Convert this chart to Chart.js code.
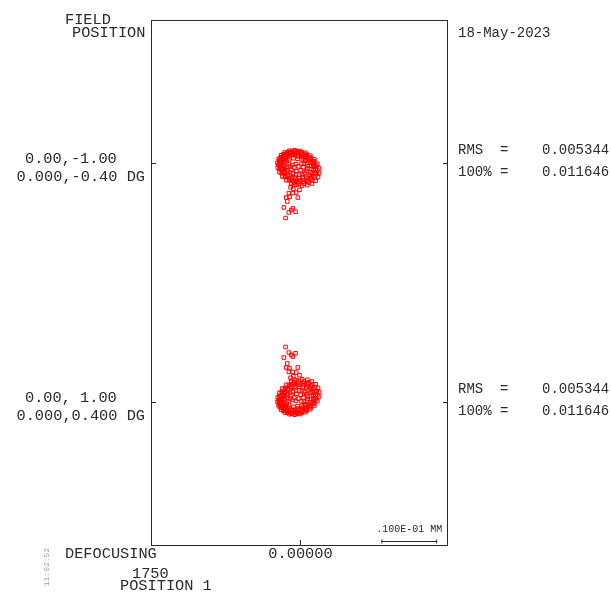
<!DOCTYPE html>
<html>
<head>
<meta charset="utf-8">
<script src="https://cdn.jsdelivr.net/npm/chart.js@4/dist/chart.umd.min.js"></script>
<style>
  html, body { margin: 0; padding: 0; background: #fff; }
  #wrap { width: 611px; height: 602px; }
</style>
</head>
<body>
<div id="wrap"><canvas id="spot" width="611" height="602"></canvas></div>
<script>
// Field definitions (relative field, field angle) and the spot statistics per field
const fieldLabels = ['0.00,-1.00', '0.00, 1.00'];
const fieldAngles = ['0.000,-0.40 DG', '0.000,0.400 DG'];
const rmsValues = ['0.005344', '0.005344'];
const fullValues = ['0.011646', '0.011646'];
const runDate = '18-May-2023';
const runTime = '11:02:52';
const defocusValue = '0.00000';
const wavelengthNm = '1750';
const zoomPosition = 'POSITION 1';
const scaleBarLabel = '.100E-01 MM';
const scaleBarMicrons = 10;

// Spot ray intercepts, micrometres relative to the chief ray of each field (x right, y up)
const spotFieldNeg1 = [
  [3.33,-2.55],[3.55,-1.79],[3.50,-0.97],[3.20,-0.15],[2.67,0.63],[1.94,1.30],[1.07,1.82],[0.11,2.15],
  [-0.87,2.28],[-1.80,2.19],[-2.63,1.89],[-3.29,1.40],[-3.73,0.75],[-3.95,-0.01],[-3.90,-0.83],[-3.60,-1.65],
  [-3.07,-2.43],[-2.34,-3.10],[-1.47,-3.62],[-0.51,-3.95],[0.47,-4.08],[1.40,-3.99],[2.23,-3.69],[2.89,-3.20],
  [3.10,-1.97],[3.18,-1.24],[3.01,-0.47],[2.63,0.27],[2.04,0.95],[1.30,1.50],[0.44,1.90],[-0.46,2.11],
  [-1.35,2.13],[-2.17,1.94],[-2.86,1.58],[-3.37,1.05],[-3.68,0.39],[-3.76,-0.34],[-3.59,-1.11],[-3.21,-1.85],
  [-2.62,-2.53],[-1.88,-3.08],[-1.02,-3.48],[-0.12,-3.69],[0.77,-3.71],[1.59,-3.52],[2.28,-3.16],[2.79,-2.63],
  [2.76,-1.77],[2.84,-1.09],[2.68,-0.39],[2.33,0.30],[1.79,0.93],[1.10,1.44],[0.31,1.81],[-0.52,2.00],
  [-1.35,2.02],[-2.11,1.85],[-2.74,1.51],[-3.22,1.02],[-3.50,0.41],[-3.58,-0.27],[-3.42,-0.97],[-3.07,-1.66],
  [-2.53,-2.29],[-1.84,-2.80],[-1.05,-3.17],[-0.22,-3.36],[0.61,-3.38],[1.37,-3.21],[2.00,-2.87],[2.48,-2.38],
  [2.33,-1.88],[2.50,-1.28],[2.46,-0.64],[2.23,0.01],[1.81,0.63],[1.23,1.16],[0.54,1.57],[-0.22,1.83],
  [-0.99,1.93],[-1.72,1.86],[-2.38,1.62],[-2.90,1.24],[-3.25,0.72],[-3.42,0.12],[-3.38,-0.52],[-3.15,-1.17],
  [-2.73,-1.79],[-2.15,-2.32],[-1.46,-2.73],[-0.70,-2.99],[0.07,-3.09],[0.80,-3.02],[1.46,-2.78],[1.98,-2.40],
  [1.99,-1.66],[2.15,-1.11],[2.11,-0.52],[1.90,0.07],[1.52,0.63],[0.99,1.11],[0.36,1.49],[-0.33,1.73],
  [-1.03,1.82],[-1.70,1.75],[-2.30,1.54],[-2.77,1.19],[-3.09,0.72],[-3.25,0.17],[-3.21,-0.42],[-3.00,-1.01],
  [-2.62,-1.57],[-2.09,-2.05],[-1.46,-2.43],[-0.77,-2.67],[-0.07,-2.76],[0.60,-2.69],[1.20,-2.48],[1.67,-2.13],
  [1.39,-0.99],[1.44,-0.53],[1.34,-0.05],[1.10,0.41],[0.74,0.83],[0.27,1.18],[-0.26,1.43],[-0.82,1.56],
  [-1.38,1.57],[-1.89,1.46],[-2.32,1.23],[-2.64,0.90],[-2.83,0.49],[-2.88,0.03],[-2.78,-0.45],[-2.54,-0.91],
  [-2.18,-1.33],[-1.71,-1.68],[-1.18,-1.93],[-0.62,-2.06],[-0.06,-2.07],[0.45,-1.96],[0.88,-1.73],[1.20,-1.40],
  [0.71,-0.79],[0.79,-0.08],[0.41,0.64],[-0.31,1.17],[-1.18,1.38],[-1.97,1.21],[-2.47,0.69],[-2.55,-0.02],
  [-2.17,-0.74],[-1.45,-1.27],[-0.58,-1.48],[0.21,-1.31],
  [-1.70,-0.55],[-0.95,-0.80],[-0.20,-0.60],[0.35,-0.15],[-1.90,0.45],[-1.10,0.85],[-0.35,0.75],
  [-1.30,-0.35],[-0.60,-0.20],[-2.30,0.30],
  [-1.48,-3.80],[-0.89,-3.93],[-1.60,-4.35],[-1.10,-4.60],[0.00,-4.82],[-1.91,-5.41],[-1.20,-5.41],[-0.59,-5.30],
  [-2.38,-6.20],[-1.79,-6.07],[-0.30,-6.20],[-2.20,-6.91],[-2.80,-7.98],[-1.20,-8.16],[-1.48,-8.45],[-1.91,-8.88],
  [-0.71,-8.75],[-2.50,-9.88]
];
const spotFieldPos1 = [
  [3.33,2.55],[3.55,1.79],[3.50,0.97],[3.20,0.15],[2.67,-0.63],[1.94,-1.30],[1.07,-1.82],[0.11,-2.15],
  [-0.87,-2.28],[-1.80,-2.19],[-2.63,-1.89],[-3.29,-1.40],[-3.73,-0.75],[-3.95,0.01],[-3.90,0.83],[-3.60,1.65],
  [-3.07,2.43],[-2.34,3.10],[-1.47,3.62],[-0.51,3.95],[0.47,4.08],[1.40,3.99],[2.23,3.69],[2.89,3.20],
  [3.10,1.97],[3.18,1.24],[3.01,0.47],[2.63,-0.27],[2.04,-0.95],[1.30,-1.50],[0.44,-1.90],[-0.46,-2.11],
  [-1.35,-2.13],[-2.17,-1.94],[-2.86,-1.58],[-3.37,-1.05],[-3.68,-0.39],[-3.76,0.34],[-3.59,1.11],[-3.21,1.85],
  [-2.62,2.53],[-1.88,3.08],[-1.02,3.48],[-0.12,3.69],[0.77,3.71],[1.59,3.52],[2.28,3.16],[2.79,2.63],
  [2.76,1.77],[2.84,1.09],[2.68,0.39],[2.33,-0.30],[1.79,-0.93],[1.10,-1.44],[0.31,-1.81],[-0.52,-2.00],
  [-1.35,-2.02],[-2.11,-1.85],[-2.74,-1.51],[-3.22,-1.02],[-3.50,-0.41],[-3.58,0.27],[-3.42,0.97],[-3.07,1.66],
  [-2.53,2.29],[-1.84,2.80],[-1.05,3.17],[-0.22,3.36],[0.61,3.38],[1.37,3.21],[2.00,2.87],[2.48,2.38],
  [2.33,1.88],[2.50,1.28],[2.46,0.64],[2.23,-0.01],[1.81,-0.63],[1.23,-1.16],[0.54,-1.57],[-0.22,-1.83],
  [-0.99,-1.93],[-1.72,-1.86],[-2.38,-1.62],[-2.90,-1.24],[-3.25,-0.72],[-3.42,-0.12],[-3.38,0.52],[-3.15,1.17],
  [-2.73,1.79],[-2.15,2.32],[-1.46,2.73],[-0.70,2.99],[0.07,3.09],[0.80,3.02],[1.46,2.78],[1.98,2.40],
  [1.99,1.66],[2.15,1.11],[2.11,0.52],[1.90,-0.07],[1.52,-0.63],[0.99,-1.11],[0.36,-1.49],[-0.33,-1.73],
  [-1.03,-1.82],[-1.70,-1.75],[-2.30,-1.54],[-2.77,-1.19],[-3.09,-0.72],[-3.25,-0.17],[-3.21,0.42],[-3.00,1.01],
  [-2.62,1.57],[-2.09,2.05],[-1.46,2.43],[-0.77,2.67],[-0.07,2.76],[0.60,2.69],[1.20,2.48],[1.67,2.13],
  [1.39,0.99],[1.44,0.53],[1.34,0.05],[1.10,-0.41],[0.74,-0.83],[0.27,-1.18],[-0.26,-1.43],[-0.82,-1.56],
  [-1.38,-1.57],[-1.89,-1.46],[-2.32,-1.23],[-2.64,-0.90],[-2.83,-0.49],[-2.88,-0.03],[-2.78,0.45],[-2.54,0.91],
  [-2.18,1.33],[-1.71,1.68],[-1.18,1.93],[-0.62,2.06],[-0.06,2.07],[0.45,1.96],[0.88,1.73],[1.20,1.40],
  [0.71,0.79],[0.79,0.08],[0.41,-0.64],[-0.31,-1.17],[-1.18,-1.38],[-1.97,-1.21],[-2.47,-0.69],[-2.55,0.02],
  [-2.17,0.74],[-1.45,1.27],[-0.58,1.48],[0.21,1.31],
  [-1.70,0.55],[-0.95,0.80],[-0.20,0.60],[0.35,0.15],[-1.90,-0.45],[-1.10,-0.85],[-0.35,-0.75],
  [-1.30,0.35],[-0.60,0.20],[-2.30,-0.30],
  [-1.48,3.80],[-0.89,3.93],[-1.60,4.35],[-1.10,4.60],[0.00,4.82],[-1.91,5.41],[-1.20,5.41],[-0.59,5.30],
  [-2.38,6.20],[-1.79,6.07],[-0.30,6.20],[-2.20,6.91],[-2.80,7.98],[-1.20,8.16],[-1.48,8.45],[-1.91,8.88],
  [-0.71,8.75],[-2.50,9.88]
];

// Vertical placement of each field's chief ray in the plot frame (micrometres)
const fieldRows = [21.45, -21.45];
const spots = [spotFieldNeg1, spotFieldPos1];

const datasets = spots.map((pts, i) => ({
  label: fieldLabels[i],
  data: pts.map(([dx, dy]) => ({ x: dx, y: fieldRows[i] + dy })),
  showLine: false,
  pointStyle: 'rect',
  pointRadius: 2.5,
  pointBorderWidth: 1,
  pointBackgroundColor: 'rgba(0,0,0,0)',
  pointBorderColor: '#ff0000',
  pointHoverRadius: 2.5
}));

const MONO = "'Liberation Mono', 'DejaVu Sans Mono', monospace";
const INK = '#2a2a2a';

const spotFrame = {
  id: 'spotFrame',
  afterDraw(chart) {
    const { ctx, chartArea: a, scales: { x, y } } = chart;
    ctx.save();
    ctx.strokeStyle = INK;
    ctx.lineWidth = 1;
    // plot frame
    ctx.strokeRect(a.left + 0.5, a.top + 0.5, a.right - a.left - 1, a.bottom - a.top - 1);
    // inward ticks at each field row and at the x origin
    ctx.beginPath();
    fieldRows.forEach(v => {
      const py = Math.round(y.getPixelForValue(v)) + 0.5;
      ctx.moveTo(a.left, py); ctx.lineTo(a.left + 5, py);
      ctx.moveTo(a.right, py); ctx.lineTo(a.right - 5, py);
    });
    const px0 = Math.round(x.getPixelForValue(0)) + 0.5;
    ctx.moveTo(px0, a.bottom); ctx.lineTo(px0, a.bottom - 6);
    ctx.stroke();

    // scale bar
    const bx1 = x.getPixelForValue(14.7);
    const bx2 = x.getPixelForValue(14.7 + scaleBarMicrons);
    const by = a.bottom - 4.5;
    ctx.beginPath();
    ctx.moveTo(bx1, by); ctx.lineTo(bx2, by);
    ctx.moveTo(bx1 + 0.5, by - 2); ctx.lineTo(bx1 + 0.5, by + 2);
    ctx.moveTo(bx2 - 0.5, by - 2); ctx.lineTo(bx2 - 0.5, by + 2);
    ctx.stroke();

    ctx.fillStyle = INK;
    ctx.textBaseline = 'middle';
    ctx.textAlign = 'center';
    ctx.font = `10px ${MONO}`;
    ctx.fillText(scaleBarLabel, (bx1 + bx2) / 2, a.bottom - 17);

    // header
    ctx.textAlign = 'left';
    ctx.font = `15.3px ${MONO}`;
    ctx.fillText('FIELD', 65, 19.5);
    ctx.fillText('POSITION', 72, 32.5);
    ctx.font = `14px ${MONO}`;
    ctx.fillText(runDate, 458, 33);

    // per-field labels and statistics
    fieldRows.forEach((v, i) => {
      const py = y.getPixelForValue(v);
      ctx.font = `15.3px ${MONO}`;
      ctx.fillText(fieldLabels[i], 25, py - 4.5);
      ctx.fillText(fieldAngles[i], 16.5, py + 14);
      ctx.font = `14px ${MONO}`;
      ctx.fillText('RMS  =    ' + rmsValues[i], 458, py - 13);
      ctx.fillText('100% =    ' + fullValues[i], 458, py + 9.5);
    });

    // footer
    ctx.font = `15.3px ${MONO}`;
    ctx.fillText('DEFOCUSING', 65, 554);
    ctx.textAlign = 'center';
    ctx.fillText(defocusValue, px0, 554);
    ctx.textAlign = 'left';
    ctx.fillText(wavelengthNm, 132, 574);
    ctx.fillText(zoomPosition, 120, 586);

    // run time stamp, rotated
    ctx.save();
    ctx.translate(47, 567);
    ctx.rotate(-Math.PI / 2);
    ctx.textAlign = 'center';
    ctx.fillStyle = '#9a9a9a';
    ctx.font = `8px ${MONO}`;
    ctx.fillText(runTime, 0, 0);
    ctx.restore();

    ctx.restore();
  }
};

new Chart(document.getElementById('spot'), {
  type: 'scatter',
  data: { datasets },
  options: {
    responsive: false,
    animation: false,
    events: [],
    layout: { padding: { left: 151, right: 163, top: 20, bottom: 56 } },
    scales: {
      x: { type: 'linear', min: -26.65, max: 26.65, display: false },
      y: { type: 'linear', min: -47.29, max: 47.11, display: false }
    },
    plugins: { legend: { display: false }, tooltip: { enabled: false } }
  },
  plugins: [spotFrame]
});
</script>
</body>
</html>
